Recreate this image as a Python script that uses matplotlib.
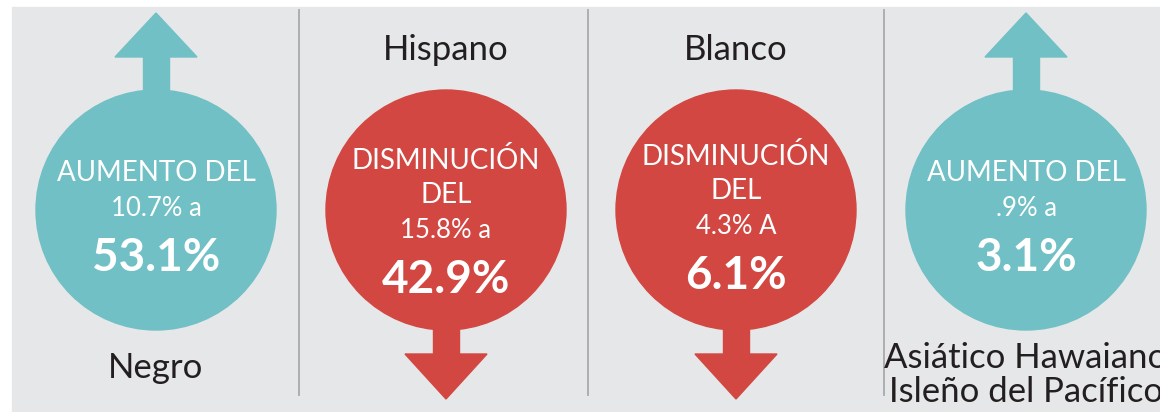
"""Infographic: change in share by group (up/down arrows in circles)."""
import matplotlib

matplotlib.use("Agg")
import matplotlib.pyplot as plt
from matplotlib.patches import Circle, Polygon, Rectangle

# data
groups = ["Negro", "Hispano", "Blanco", "Asiático Hawaiano\nIsleño del Pacífico"]
direction = ["up", "down", "down", "up"]
verbs = ["AUMENTO DEL", "DISMINUCIÓN\nDEL", "DISMINUCIÓN\nDEL", "AUMENTO DEL"]
from_vals = [10.7, 15.8, 4.3, 0.9]
from_labels = ["10.7%", "15.8%", "4.3%", ".9%"]
connectors = ["a", "a", "A", "a"]
to_vals = [53.1, 42.9, 6.1, 3.1]

TEAL = "#71c0c5"
RED = "#d24741"
BG = "#e6e7e8"
INK = "#231f20"
FONT = "Lato"

fig = plt.figure(figsize=(11.6, 4.12), dpi=100)
ax = fig.add_axes([0, 0, 1, 1])
ax.set_xlim(0, 1160)
ax.set_ylim(412, 0)
ax.axis("off")

ax.add_patch(Rectangle((12, 7), 1160, 404, color=BG, zorder=0))
for sx in [299, 588, 884]:
    ax.plot([sx, sx], [10, 395], color="#a7a9ac", lw=1.3, zorder=1)

R = 120
CY = 210
for i, g in enumerate(groups):
    cx = 156 + 290 * i
    up = direction[i] == "up"
    col = TEAL if up else RED

    # arrow: shaft + head
    if up:
        shaft = Rectangle((cx - 13, 55), 26, 50, color=col, zorder=2)
        head = Polygon([(cx - 41, 57), (cx + 41, 57), (cx, 13)], color=col, zorder=2)
    else:
        shaft = Rectangle((cx - 13, 315), 26, 41, color=col, zorder=2)
        head = Polygon([(cx - 41, 354), (cx + 41, 354), (cx, 399)], color=col, zorder=2)
    ax.add_patch(shaft)
    ax.add_patch(head)
    ax.add_patch(Circle((cx, CY), R, color=col, zorder=3))

    kw = dict(ha="center", va="center", color="white", family=FONT, zorder=4)
    lab = dict(ha="center", va="center", color=INK, family=FONT, zorder=4)
    if up:
        ax.text(cx, 173, verbs[i], fontsize=20, **kw)
        ax.text(cx, 208, f"{from_labels[i]} {connectors[i]}", fontsize=18.5, **kw)
        ax.text(cx, 258, f"{to_vals[i]}%", fontsize=33, weight="bold", **kw)
        if "\n" in g:
            ax.text(cx, 375, g, fontsize=25, linespacing=1.1, **lab)
        else:
            ax.text(cx, 368, g, fontsize=25, **lab)
    else:
        dy = -4 if i == 2 else 0
        line1, line2 = verbs[i].split("\n")
        ax.text(cx, 160 + dy, line1, fontsize=20, **kw)
        ax.text(cx, 195 + dy, line2, fontsize=20, **kw)
        ax.text(cx, 230 + dy, f"{from_labels[i]} {connectors[i]}", fontsize=18.5, **kw)
        ax.text(cx, 280 + dy, f"{to_vals[i]}%", fontsize=33, weight="bold", **kw)
        ax.text(cx, 50, g, fontsize=25, **lab)

fig.savefig("out.png", dpi=100, facecolor="white")
